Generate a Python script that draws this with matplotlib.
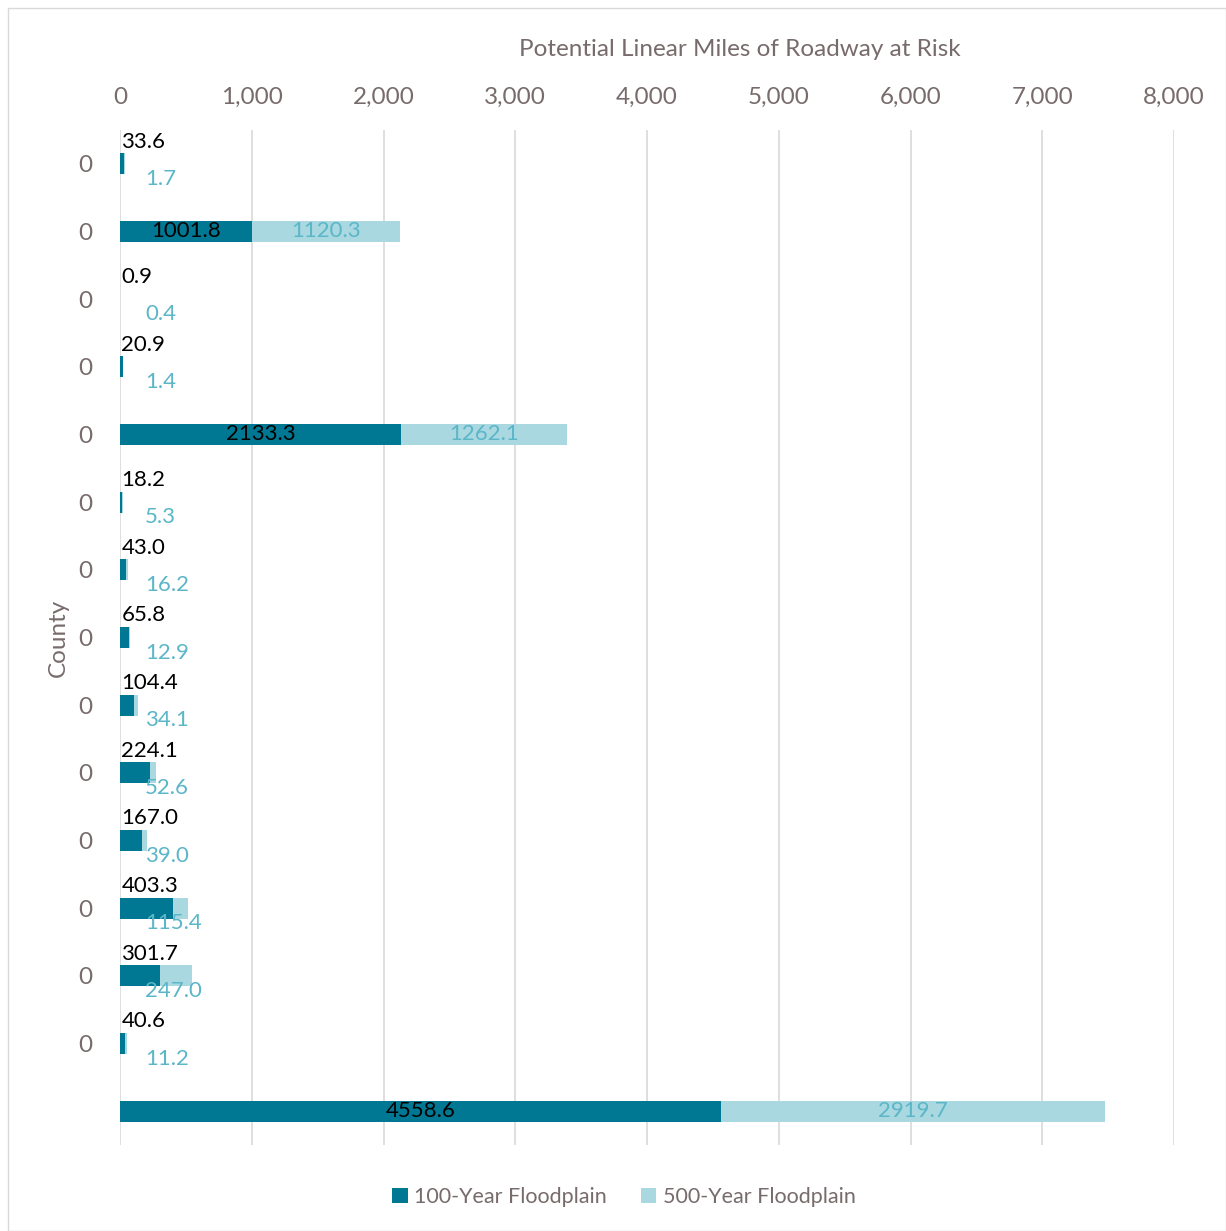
import numpy as np
import matplotlib

matplotlib.use("Agg")
import matplotlib.pyplot as plt
from matplotlib.patches import Rectangle

plt.rcParams["font.family"] = ["Lato", "DejaVu Sans"]

counties = ["0", "0", "0", "0", "0", "0", "0", "0", "0", "0", "0", "0", "0", "0", ""]
miles_100 = [33.6, 1001.8, 0.9, 20.9, 2133.3, 18.2, 43.0, 65.8, 104.4, 224.1,
             167.0, 403.3, 301.7, 40.6, 4558.6]
miles_500 = [1.7, 1120.3, 0.4, 1.4, 1262.1, 5.3, 16.2, 12.9, 34.1, 52.6,
             39.0, 115.4, 247.0, 11.2, 2919.7]
xticks = [0, 1000, 2000, 3000, 4000, 5000, 6000, 7000, 8000]

DARK = "#007893"
LIGHT = "#A9D8E0"
LIGHT_TXT = "#5BB6C8"
GREY_TXT = "#786B6B"

W, H = 1226, 1231
fig = plt.figure(figsize=(W / 100, H / 100), dpi=100)
fig.patches.append(Rectangle((8 / W, 0), 1 - 8 / W, 1 - 8 / H, transform=fig.transFigure,
                             fill=False, edgecolor="#D9D9D9", linewidth=1))
ax = fig.add_axes([120 / W, 1 - 1145 / H, (1174 - 120) / W, (1145 - 130) / H])

y = np.arange(len(counties))
v1 = np.array(miles_100)
v2 = np.array(miles_500)
ax.barh(y, v1, height=0.31, color=DARK, label="100-Year Floodplain", zorder=3)
ax.barh(y, v2, left=v1, height=0.31, color=LIGHT, label="500-Year Floodplain", zorder=3)

fs = 16
for i in range(len(y)):
    a, b = v1[i], v2[i]
    if a + b > 1000:
        ax.text(a / 2, y[i], f"{a:.1f}", ha="center", va="center", fontsize=fs,
                color="black", zorder=4)
        ax.text(a + b / 2, y[i], f"{b:.1f}", ha="center", va="center", fontsize=fs,
                color=LIGHT_TXT, zorder=4)
    else:
        ax.annotate(f"{a:.1f}", (0, y[i]), xytext=(1, 16), textcoords="offset points",
                    ha="left", va="center", fontsize=fs, color="black", zorder=4)
        ax.annotate(f"{b:.1f}", (0, y[i]), xytext=(18, -11), textcoords="offset points",
                    ha="left", va="center", fontsize=fs, color=LIGHT_TXT, zorder=4)

ax.set_xlim(0, 8000)
ax.set_ylim(len(y) - 0.5, -0.5)
ax.set_xticks(xticks)
ax.set_xticklabels([f"{t:,}" for t in xticks])
ax.xaxis.tick_top()
ax.xaxis.set_label_position("top")
ax.set_yticks(y)
ax.set_yticklabels(counties)
ax.tick_params(length=0, labelsize=17.5, colors=GREY_TXT)
ax.tick_params(axis="x", pad=16)
ax.tick_params(axis="y", pad=20)
ax.grid(axis="x", color="#D9D9D9", linewidth=1.2, zorder=0)
for s in ax.spines.values():
    s.set_visible(False)
ax.set_xlabel("Potential Linear Miles of Roadway at Risk", fontsize=17.5, color=GREY_TXT)
ax.xaxis.set_label_coords((740 - 120) / 1054, 1 + (130 - 49) / 1015)
ax.xaxis.label.set_va("center")
ax.set_ylabel("County", fontsize=17.5, color=GREY_TXT)
ax.yaxis.set_label_coords((58 - 120) / 1054, 0.5)
ax.yaxis.label.set_va("center")

fig.legend(loc="center", bbox_to_anchor=(624 / W, 1 - 1197 / H), ncol=2, frameon=False,
           fontsize=15.5, handlelength=0.7, handleheight=0.7, handletextpad=0.3,
           columnspacing=1.6, labelcolor=GREY_TXT)

fig.savefig("out.png", dpi=100)
